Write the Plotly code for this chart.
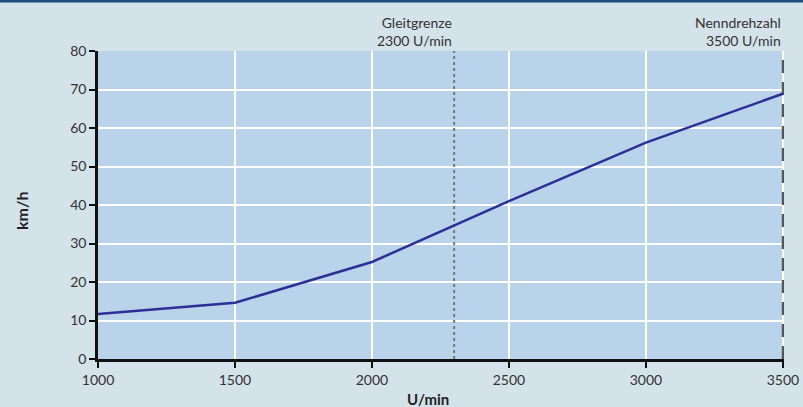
import plotly.graph_objects as go

rpm = [1000, 1500, 2000, 2500, 3000, 3500]
speed = [11.7, 14.6, 25.2, 41.0, 56.2, 68.9]
x_ticks = [1000, 1500, 2000, 2500, 3000, 3500]
x_range = [1000, 3504]
y_ticks = [0, 10, 20, 30, 40, 50, 60, 70, 80]
y_range = [0, 80]
glide_rpm = 2300
rated_rpm = 3500
glide_label = "Gleitgrenze<br>2300 U/min"
rated_label = "Nenndrehzahl<br>3500 U/min"

font = "Lato, Open Sans, sans-serif"
M_L, M_R, M_T, M_B = 98, 19, 51, 48
PH = 407 - M_T - M_B
PW = 803 - M_L - M_R

fig = go.Figure()
fig.add_trace(go.Scatter(x=[glide_rpm, glide_rpm], y=y_range, mode="lines",
                         line=dict(color="#777777", width=2, dash="dot"),
                         hoverinfo="skip", showlegend=False))
fig.add_trace(go.Scatter(x=[rated_rpm, rated_rpm], y=y_range, mode="lines",
                         line=dict(color="#555555", width=2.2, dash="13px,9px"),
                         hoverinfo="skip", showlegend=False))
fig.add_trace(go.Scatter(x=rpm, y=speed, mode="lines",
                         line=dict(color="#2e2f96", width=2.5),
                         hoverinfo="skip", showlegend=False))

fig.add_shape(type="line", xref="paper", yref="paper",
              x0=-M_L / PW, x1=1 + M_R / PW, y0=1 + (M_T - 1) / PH, y1=1 + (M_T - 1) / PH,
              line=dict(color="#1f4e78", width=3))

fig.add_annotation(x=glide_rpm, y=1, xref="x", yref="paper", text=glide_label,
                   showarrow=False, xanchor="right", yanchor="bottom", align="right",
                   yshift=0, font=dict(family=font, size=14, color="#333333"))
fig.add_annotation(x=rated_rpm, y=1, xref="x", yref="paper", text=rated_label,
                   showarrow=False, xanchor="right", yanchor="bottom", align="right",
                   yshift=0, font=dict(family=font, size=14, color="#333333"))
fig.add_annotation(x=-76 / PW, y=(359 - 211) / PH, xref="paper", yref="paper", text="<b>km/h</b>",
                   showarrow=False, textangle=-90, xanchor="center", yanchor="middle",
                   font=dict(family=font, size=16, color="#222222"))
fig.add_annotation(x=(428 - M_L) / PW, y=-40 / PH, xref="paper", yref="paper", text="<b>U/min</b>",
                   showarrow=False, xanchor="center", yanchor="middle",
                   font=dict(family=font, size=15, color="#222222"))

fig.update_layout(
    width=803, height=407,
    margin=dict(l=M_L, r=M_R, t=M_T, b=M_B, autoexpand=False),
    paper_bgcolor="#d4e2ea",
    plot_bgcolor="#b8d3ea",
    font=dict(family=font, size=14, color="#333333"),
)
fig.update_xaxes(range=x_range, tickvals=x_ticks, showgrid=True, gridcolor="#ffffff",
                 gridwidth=1.5, zeroline=False, showline=True, linecolor="#111111", linewidth=2.5,
                 ticks="outside", ticklen=6, tickwidth=2, tickcolor="#111111", automargin=False)
fig.update_yaxes(range=y_range, tickvals=y_ticks, showgrid=True, gridcolor="#ffffff",
                 gridwidth=1.5, zeroline=False, showline=True, linecolor="#111111", linewidth=2.5,
                 ticks="outside", ticklen=6, tickwidth=2, tickcolor="#111111", automargin=False)

fig.write_html("out.html", config={"displayModeBar": False},
               post_script="document.body.style.margin='0';document.body.style.overflow='hidden';")
